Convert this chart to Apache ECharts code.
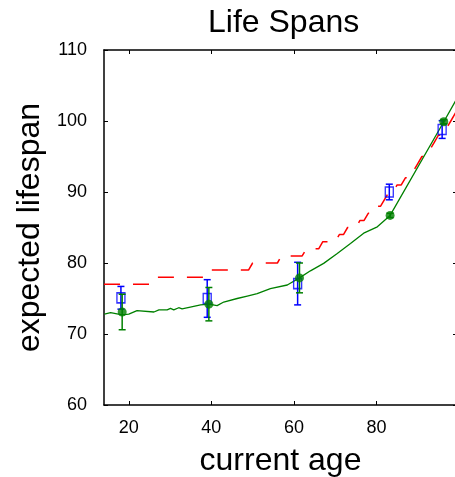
<!DOCTYPE html>
<html>
<head>
<meta charset="utf-8">
<script src="https://cdn.jsdelivr.net/npm/echarts@6/dist/echarts.min.js"></script>
<style>
  html, body { margin: 0; padding: 0; background: #fff; }
  #chart { width: 455px; height: 477px; }
</style>
</head>
<body>
<div id="chart"></div>
<script>
// smooth model curve (green)
var curveAges = [14.1, 15.6, 18.4, 20.0, 22.0, 26.1, 27.3, 29.3, 30.1, 30.9, 32.1, 32.9, 34.9, 37.4, 39.4,
    41.4, 43.0, 46.25, 48.7, 51.1, 54.3, 58.4, 61.35, 64.0, 67.2, 70.5, 73.7, 76.9, 80.2, 83.3, 96.3, 99.5];
var curveVals = [72.8, 73.0, 72.7, 72.8, 73.3, 73.1, 73.4, 73.4, 73.6, 73.4, 73.7, 73.55, 73.8, 74.1, 74.2,
    74.0, 74.5, 75.0, 75.35, 75.7, 76.4, 76.9, 77.9, 78.9, 79.95, 81.35, 82.75, 84.2, 85.1, 86.7, 99.9, 103.2];

// actuarial table (red dashed)
var tableAges = [14, 15, 16, 17, 18, 19, 20, 21, 22, 23, 24, 25, 26, 27, 28, 29, 30, 31, 32, 33, 34, 35, 36, 37, 38, 39,
    40, 41, 42, 43, 44, 45, 46, 47, 48, 49, 50, 51, 52, 53, 54, 55, 56, 57, 58, 59, 60, 61, 62, 63, 64, 65, 66,
    67, 68, 69, 70, 71, 72, 73, 74, 75, 76, 77, 78, 79, 80, 81, 82, 83, 84, 85, 86, 87, 88, 89, 90, 91, 92,
    93, 94, 95, 96, 97, 98, 99, 100];
var tableVals = [77, 77, 77, 77, 77, 77, 77, 77, 77, 77, 77, 77, 78, 78, 78, 78, 78, 78, 78, 78, 78, 78, 78, 78, 78, 78,
    79, 79, 79, 79, 79, 79, 79, 79, 79, 79, 80, 80, 80, 80, 80, 80, 80, 81, 81, 81, 81, 81, 81, 82, 82, 82, 82,
    83, 83, 83, 83, 84, 84, 85, 85, 85, 86, 86, 87, 87, 88, 88, 89, 90, 90, 91, 91, 92, 92, 93, 94, 95, 95,
    96, 97, 98, 98, 99, 100, 101, 102];

// sampled means with error bars
var greenAges = [18.4, 39.4, 61.35, 83.3, 96.3];
var greenMeans = [73.1, 74.2, 77.9, 86.7, 99.9];
var greenErr = [2.5, 2.35, 2.1, 0.3, 0.3];
var blueAges = [18.1, 39.0, 60.9, 83.1, 95.9];
var blueMeans = [75.1, 75.0, 77.1, 90.0, 98.8];
var blueErr = [1.6, 2.65, 3.0, 1.1, 1.25];

var xTicks = [20, 40, 60, 80];

var chart = echarts.init(document.getElementById('chart'));

function zip(a, b, c) {
    return a.map(function (v, i) { return c ? [v, b[i], c[i]] : [v, b[i]]; });
}

function errorBars(color, capW) {
    return function (params, api) {
        var x = api.value(0), y = api.value(1), e = api.value(2);
        var top = api.coord([x, y + e]);
        var bot = api.coord([x, y - e]);
        var style = { stroke: color, lineWidth: 1.5, fill: null };
        return {
            type: 'group',
            children: [
                { type: 'line', shape: { x1: top[0], y1: top[1], x2: bot[0], y2: bot[1] }, style: style },
                { type: 'line', shape: { x1: top[0] - capW / 2, y1: top[1], x2: top[0] + capW / 2, y2: top[1] }, style: style },
                { type: 'line', shape: { x1: bot[0] - capW / 2, y1: bot[1], x2: bot[0] + capW / 2, y2: bot[1] }, style: style }
            ]
        };
    };
}

var font = 'Liberation Sans';
var axisLine = { show: true, lineStyle: { color: '#000', width: 1.5 } };
var tick = { show: true, inside: true, length: 4, lineStyle: { color: '#000', width: 1 } };

option = {
    animation: false,
    backgroundColor: '#fff',
    title: {
        text: 'Life Spans',
        left: 203,
        top: 2,
        textStyle: { fontFamily: font, fontSize: 32, fontWeight: 'normal', color: '#000' }
    },
    grid: { left: 104, top: 50, right: -2, bottom: 72, outerBoundsMode: 'none', containLabel: false },
    xAxis: [{
        type: 'value', min: 14, max: 99.5, position: 'bottom',
        name: 'current age', nameLocation: 'middle', nameGap: 40,
        nameTextStyle: { fontFamily: font, fontSize: 32, color: '#000' },
        axisLine: axisLine,
        axisTick: Object.assign({ customValues: xTicks }, tick),
        axisLabel: { customValues: xTicks, margin: 14, fontFamily: font, fontSize: 18, color: '#000' },
        splitLine: { show: false }
    }, {
        type: 'value', min: 14, max: 99.5, position: 'top',
        axisLine: axisLine,
        axisTick: Object.assign({ customValues: xTicks }, tick),
        axisLabel: { show: false },
        splitLine: { show: false }
    }],
    yAxis: [{
        type: 'value', min: 60, max: 110, interval: 10, position: 'left',
        name: 'expected lifespan', nameLocation: 'middle', nameGap: 47,
        nameTextStyle: { fontFamily: font, fontSize: 32, color: '#000' },
        axisLine: axisLine,
        axisTick: tick,
        axisLabel: { margin: 17, fontFamily: font, fontSize: 18, color: '#000' },
        splitLine: { show: false }
    }, {
        type: 'value', min: 60, max: 110, interval: 10, position: 'right',
        axisLine: axisLine,
        axisTick: tick,
        axisLabel: { show: false },
        splitLine: { show: false }
    }],
    series: [{
        type: 'line',
        data: zip(tableAges, tableVals),
        showSymbol: false,
        clip: true,
        lineStyle: { color: '#ff0000', width: 1.5, type: [16, 13] },
        z: 2
    }, {
        type: 'line',
        data: zip(curveAges, curveVals),
        showSymbol: false,
        clip: true,
        lineStyle: { color: '#008000', width: 1.3 },
        z: 3
    }, {
        type: 'custom',
        data: zip(blueAges, blueMeans, blueErr),
        renderItem: errorBars('#0000ff', 7),
        encode: { x: 0, y: 1 },
        z: 4
    }, {
        type: 'scatter',
        data: zip(blueAges, blueMeans),
        symbol: 'rect',
        symbolSize: [8, 10],
        itemStyle: { color: 'rgba(0,0,0,0)', borderColor: '#0000ff', borderWidth: 1.5 },
        z: 5
    }, {
        type: 'custom',
        data: zip(greenAges, greenMeans, greenErr),
        renderItem: errorBars('#008000', 7),
        encode: { x: 0, y: 1 },
        z: 6
    }, {
        type: 'scatter',
        data: zip(greenAges, greenMeans),
        symbol: 'circle',
        symbolSize: 9,
        itemStyle: { color: '#008000' },
        z: 7
    }]
};

chart.setOption(option);
</script>
</body>
</html>
